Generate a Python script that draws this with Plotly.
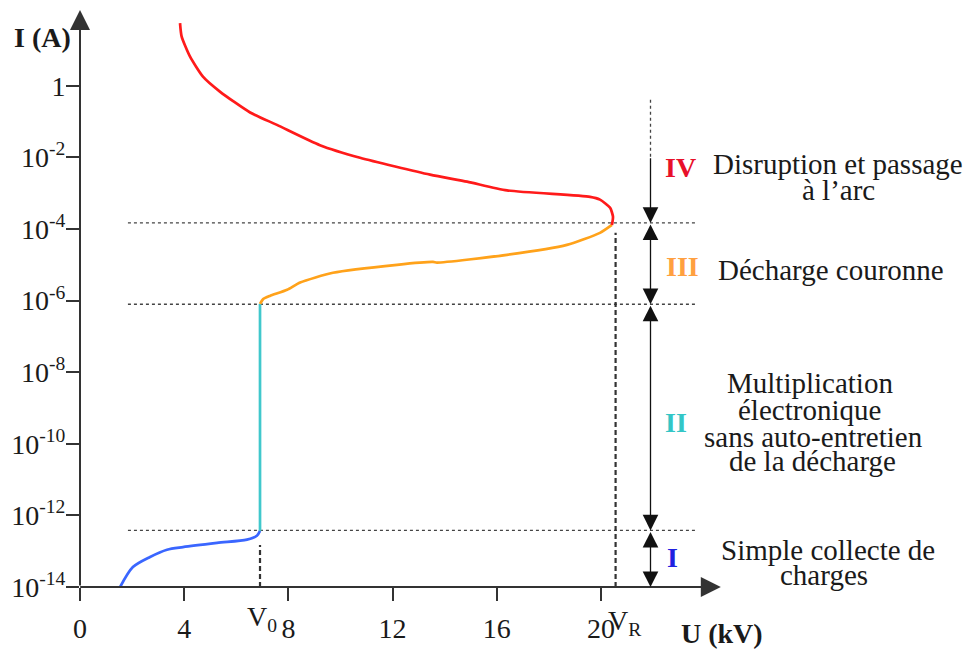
import plotly.graph_objects as go

# ---------------- data (U in kV, I in A) ----------------
blue_u = [1.54, 2.03, 2.69, 3.34, 3.95, 5.26, 6.41, 6.79, 6.91]
blue_i = [1.0e-14, 3.6e-14, 6.9e-14, 1.1e-13, 1.3e-13, 1.7e-13, 2.1e-13, 2.7e-13, 3.7e-13]

cyan_u = [6.91, 6.91]
cyan_i = [3.7e-13, 8.1e-7]

orange_u = [6.91, 7.03, 7.29, 7.95, 8.45, 9.71, 12.17, 13.55, 13.70, 16.39, 18.69, 19.96, 20.42]
orange_i = [8.1e-7, 1.1e-6, 1.35e-6, 2.0e-6, 3.2e-6, 6.0e-6, 1.0e-5, 1.2e-5, 1.15e-5, 1.9e-5, 3.6e-5, 7.8e-5, 1.3e-4]

red_u = [20.42, 20.46, 20.35, 19.96, 19.58, 16.39, 14.86, 13.44, 10.75, 9.21, 7.56, 6.53, 5.37, 4.72, 4.22, 3.90, 3.84]
red_i = [1.3e-4, 2.2e-4, 3.9e-4, 6.6e-4, 7.9e-4, 1.2e-3, 2.1e-3, 3.3e-3, 9.8e-3, 2.2e-2, 8.1e-2, 0.18, 0.69, 1.8, 6.6, 24, 56]

# regime boundaries (A) and characteristic voltages (kV)
level_i = [1.48e-4, 7.9e-7, 3.8e-13]
level_u = [1.84, 23.7]
v0 = 6.91
vr = 20.56
v0_top = 1.5e-13
vr_top = 7.8e-5
u_floor = 1e-14

x_ticks = [0, 4, 8, 12, 16, 20]
y_tick_vals = [1e-14, 1e-12, 1e-10, 1e-8, 1e-6, 1e-4, 1e-2, 1]
y_tick_text = ["10<sup>-14</sup>", "10<sup>-12</sup>", "10<sup>-10</sup>", "10<sup>-8</sup>",
               "10<sup>-6</sup>", "10<sup>-4</sup>", "10<sup>-2</sup>", "1"]

# regime bracket (x in kV, y as log10 of I)
bracket_u = 21.9
bracket_dotted = [-0.39, -1.98]
bracket_segments = [(-1.98, -3.83, "end"), (-3.83, -6.10, "end+start"),
                    (-6.10, -12.42, "end+start"), (-12.42, -14.0, "end+start")]

AX = "#333333"
FONT = "Liberation Serif"
PX_PER_KV = 26.05
PX_PER_DEC = 35.8
W, H = 957, 642
L, B = 72, 63
PLOT_W = W - L
PLOT_H = H - B

fig = go.Figure()

# reference dotted levels
for li in level_i:
    fig.add_trace(go.Scatter(x=level_u, y=[li, li], mode="lines",
                             line=dict(color="#444444", width=1.3, dash="dot"), hoverinfo="skip"))
# dashed verticals
fig.add_trace(go.Scatter(x=[v0, v0], y=[u_floor, v0_top], mode="lines",
                         line=dict(color="#333333", width=2.2, dash="5px,3px"), hoverinfo="skip"))
fig.add_trace(go.Scatter(x=[vr, vr], y=[u_floor, vr_top], mode="lines",
                         line=dict(color="#333333", width=2.2, dash="5px,3px"), hoverinfo="skip"))
# dotted top of bracket
fig.add_trace(go.Scatter(x=[bracket_u, bracket_u], y=[10 ** bracket_dotted[0], 10 ** bracket_dotted[1]],
                         mode="lines", line=dict(color="#444444", width=1.3, dash="dot"), hoverinfo="skip"))

# curves
fig.add_trace(go.Scatter(x=blue_u, y=blue_i, mode="lines",
                         line=dict(color="#3a66ff", width=2.7, shape="spline", smoothing=0.8)))
fig.add_trace(go.Scatter(x=cyan_u, y=cyan_i, mode="lines",
                         line=dict(color="#40c8cc", width=2.7)))
fig.add_trace(go.Scatter(x=orange_u, y=orange_i, mode="lines",
                         line=dict(color="#ffa21a", width=2.7, shape="spline", smoothing=0.6)))
fig.add_trace(go.Scatter(x=red_u, y=red_i, mode="lines",
                         line=dict(color="#ff1a1a", width=2.7, shape="spline", smoothing=0.6)))

ann = []
# axes with arrows
ann.append(dict(x=0, y=2.12, ax=0, ay=-14, xref="x", yref="y", axref="x", ayref="y", text="",
                showarrow=True, arrowhead=2, arrowsize=2.0, arrowwidth=2, arrowcolor=AX, standoff=0))
ann.append(dict(x=24.6, y=-14, ax=-0.05, ay=-14, xref="x", yref="y", axref="x", ayref="y", text="",
                showarrow=True, arrowhead=2, arrowsize=2.0, arrowwidth=2, arrowcolor=AX, standoff=0))
# bracket arrows
for y0, y1, side in bracket_segments:
    ann.append(dict(x=bracket_u, y=y1, ax=bracket_u, ay=y0, xref="x", yref="y", axref="x", ayref="y",
                    text="", showarrow=True, arrowside=side, arrowhead=2, startarrowhead=2,
                    arrowsize=2.4, startarrowsize=2.4, arrowwidth=1.3, arrowcolor="#111111",
                    standoff=0, startstandoff=0))

def txt(x, y, s, size=29, color="#1a1a1a", bold=False, xref="x", yref="y"):
    if bold:
        s = "<b>" + s + "</b>"
    ann.append(dict(x=x, y=y, xref=xref, yref=yref, text=s, showarrow=False,
                    font=dict(family=FONT, size=size, color=color),
                    xanchor="center", yanchor="middle"))

# regime numerals
txt(23.07, -2.29, "IV", color="#e8102a", bold=True, size=28)
txt(23.13, -5.06, "III", color="#ffa040", bold=True, size=28)
txt(22.86, -9.41, "II", color="#33c6c6", bold=True, size=28)
txt(22.74, -13.18, "I", color="#2020e0", bold=True, size=28)
# descriptions
txt(29.08, -2.18, "Disruption et passage")
txt(29.10, -2.905, "à l’arc")
txt(28.83, -5.14, "Décharge couronne")
txt(28.04, -8.29, "Multiplication")
txt(28.02, -9.05, "électronique")
txt(28.15, -9.80, "sans auto-entretien")
txt(28.10, -10.49, "de la décharge")
txt(28.73, -12.96, "Simple collecte de")
txt(28.56, -13.66, "charges")
# axis titles and voltage markers
txt(24.65, (579 - 625) / PLOT_H, "U (kV)", bold=True, yref="paper", size=28)
txt(-38 / PLOT_W, 1.34, "I (A)", bold=True, xref="paper", size=28)
txt(6.99, (579 - 610) / PLOT_H, "V<sub>0</sub>", yref="paper", size=28)
txt(20.92, (579 - 614) / PLOT_H, "V<sub>R</sub>", yref="paper", size=28)

fig.update_layout(
    width=W, height=H,
    margin=dict(l=L, r=0, t=0, b=B),
    paper_bgcolor="white", plot_bgcolor="white",
    showlegend=False,
    font=dict(family=FONT, size=28, color="#1a1a1a"),
    annotations=ann,
    xaxis=dict(range=[0, PLOT_W / PX_PER_KV], showgrid=False, zeroline=False, showline=False,
               tickvals=x_ticks, ticktext=[str(v) for v in x_ticks],
               ticks="outside", ticklen=13, tickwidth=2, tickcolor=AX,
               tickfont=dict(family=FONT, size=28, color="#1a1a1a"), ticklabelstandoff=3),
    yaxis=dict(type="log", range=[-14, -14 + PLOT_H / PX_PER_DEC], showgrid=False, zeroline=False,
               showline=False, tickvals=y_tick_vals, ticktext=y_tick_text,
               ticks="outside", ticklen=13, tickwidth=2, tickcolor=AX,
               tickfont=dict(family=FONT, size=28, color="#1a1a1a"), ticklabelstandoff=-5),
)

fig.write_html("out.html")
